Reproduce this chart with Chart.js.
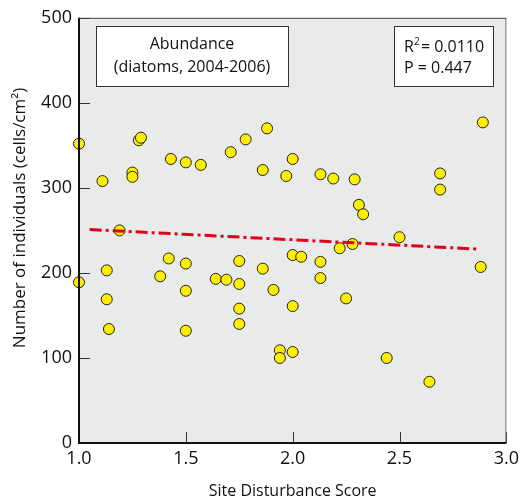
<!DOCTYPE html>
<html>
<head>
<meta charset="utf-8">
<script src="https://cdn.jsdelivr.net/npm/chart.js@4.4.0/dist/chart.umd.min.js"></script>
<style>
  html, body { margin: 0; padding: 0; background: #ffffff; }
  #wrap { width: 524px; height: 501px; }
</style>
</head>
<body>
<div id="wrap"><canvas id="chart" width="524" height="501"></canvas></div>
<script>
// site disturbance score vs abundance
const scoreX = [1.00, 1.11, 1.25, 1.25, 1.28, 1.29, 1.43, 1.50, 1.57, 1.71, 1.78, 1.88, 1.86, 1.97, 1.19,
  2.00, 2.13, 2.19, 2.29, 2.31, 2.33, 2.69, 2.69, 2.89, 2.50,
  1.00, 1.13, 1.13, 1.14, 1.38, 1.42, 1.50, 1.50, 1.50, 1.64, 1.69, 1.75, 1.75, 1.75, 1.75, 1.86, 1.91, 1.94, 1.94,
  2.00, 2.04, 2.13, 2.13, 2.22, 2.28, 2.00, 2.25, 2.00, 2.44, 2.64, 2.88];
const abundance = [352, 308, 318, 313, 356, 359, 334, 330, 327, 342, 357, 370, 321, 314, 250,
  334, 316, 311, 310, 280, 269, 317, 298, 377, 242,
  189, 203, 169, 134, 196, 217, 211, 179, 132, 193, 192, 214, 187, 158, 140, 205, 180, 109, 100,
  221, 219, 213, 194, 229, 234, 161, 170, 107, 100, 72, 207];

// regression line end points
const trendX = [1.05, 2.87];
const trendY = [251, 228];

const xTicks = [1.0, 1.5, 2.0, 2.5, 3.0];
const yTicks = [0, 100, 200, 300, 400, 500];

const titleLines = ["Abundance", "(diatoms, 2004-2006)"];
const statLines = ["R", "= 0.0110", "P = 0.447"];
const yTitle = "Number of individuals (cells/cm²)";

const FONT = "'Open Sans', 'Noto Sans', sans-serif";

const framePlugin = {
  id: 'frame',
  beforeDatasetsDraw(chart) {
    const { ctx, chartArea: a, scales } = chart;
    ctx.save();
    ctx.fillStyle = '#e9ebeb';
    ctx.fillRect(a.left, a.top, a.right - a.left, a.bottom - a.top);
    // inward tick marks
    ctx.strokeStyle = '#333';
    ctx.lineWidth = 1;
    ctx.beginPath();
    yTicks.forEach(v => {
      const y = Math.round(scales.y.getPixelForValue(v)) + 0.5;
      ctx.moveTo(a.left, y);
      ctx.lineTo(a.left + 11, y);
    });
    xTicks.forEach(v => {
      const x = Math.round(scales.x.getPixelForValue(v)) + 0.5;
      ctx.moveTo(x, a.bottom);
      ctx.lineTo(x, a.bottom - 11);
    });
    ctx.stroke();
    ctx.restore();
  },
  afterDraw(chart) {
    const { ctx, chartArea: a } = chart;
    ctx.save();
    // top and right edges
    ctx.lineWidth = 1;
    ctx.strokeStyle = '#444';
    ctx.beginPath();
    ctx.moveTo(a.left, a.top + 0.5);
    ctx.lineTo(a.right, a.top + 0.5);
    ctx.stroke();
    ctx.strokeStyle = '#777';
    ctx.beginPath();
    ctx.moveTo(a.right - 0.5, a.top);
    ctx.lineTo(a.right - 0.5, a.bottom);
    ctx.stroke();
    // left and bottom axes
    ctx.lineWidth = 2;
    ctx.strokeStyle = '#111';
    ctx.beginPath();
    ctx.moveTo(a.left, a.top);
    ctx.lineTo(a.left, a.bottom);
    ctx.lineTo(a.right, a.bottom);
    ctx.stroke();

    // y axis title
    ctx.save();
    ctx.translate(20, 218);
    ctx.rotate(-Math.PI / 2);
    ctx.fillStyle = '#111';
    ctx.font = '17px ' + FONT;
    ctx.textAlign = 'center';
    ctx.textBaseline = 'middle';
    ctx.fillText(yTitle, 0, 0);
    ctx.restore();

    // text boxes
    ctx.fillStyle = '#fff';
    ctx.strokeStyle = '#333';
    ctx.lineWidth = 1;
    ctx.fillRect(96, 26, 192, 60);
    ctx.strokeRect(96.5, 26.5, 192, 60);
    ctx.fillRect(394, 26, 99, 60);
    ctx.strokeRect(394.5, 26.5, 99, 60);

    ctx.fillStyle = '#111';
    ctx.font = '16px ' + FONT;
    ctx.textAlign = 'center';
    ctx.textBaseline = 'middle';
    ctx.fillText(titleLines[0], 192, 44);
    ctx.fillText(titleLines[1], 192, 67);

    ctx.textAlign = 'left';
    ctx.fillText(statLines[0], 404, 47);
    const rw = ctx.measureText(statLines[0]).width;
    ctx.font = '10px ' + FONT;
    ctx.fillText('2', 404 + rw, 42);
    ctx.font = '16px ' + FONT;
    ctx.fillText(statLines[1], 404 + rw + 7, 47);
    ctx.fillText(statLines[2], 404, 68);
    ctx.restore();
  }
};

const points = scoreX.map((x, i) => ({ x: x, y: abundance[i] }));
const trend = trendX.map((x, i) => ({ x: x, y: trendY[i] }));

new Chart(document.getElementById('chart'), {
  type: 'scatter',
  data: {
    datasets: [{
      type: 'line',
      label: 'trend',
      data: trend,
      borderColor: '#e3001b',
      borderWidth: 3,
      borderDash: [12, 4, 3, 4],
      pointRadius: 0,
      fill: false
    }, {
      label: 'Abundance',
      data: points,
      backgroundColor: '#ffee00',
      borderColor: '#222',
      borderWidth: 1,
      pointRadius: 5.5,
      clip: false
    }]
  },
  options: {
    responsive: false,
    animation: false,
    events: [],
    layout: { padding: { left: 0, top: 15, right: 17, bottom: 0 } },
    plugins: { legend: { display: false }, tooltip: { enabled: false } },
    scales: {
      x: {
        type: 'linear',
        min: 1, max: 3,
        afterFit: s => { s.height = 58; },
        afterBuildTicks: s => { s.ticks = xTicks.map(v => ({ value: v })); },
        grid: { display: false, drawTicks: false },
        border: { display: false },
        ticks: {
          padding: 5,
          color: '#111',
          font: { family: FONT, size: 18 },
          callback: v => v.toFixed(1)
        },
        title: {
          display: true,
          text: 'Site Disturbance Score',
          color: '#111',
          font: { family: FONT, size: 16 },
          padding: { top: 0, bottom: 0 }
        }
      },
      y: {
        min: 0, max: 500,
        afterFit: s => { s.width = 79; },
        afterBuildTicks: s => { s.ticks = yTicks.map(v => ({ value: v })); },
        grid: { display: false, drawTicks: false },
        border: { display: false },
        ticks: {
          padding: 7,
          color: '#111',
          font: { family: FONT, size: 18 }
        }
      }
    }
  },
  plugins: [framePlugin]
});
</script>
</body>
</html>
